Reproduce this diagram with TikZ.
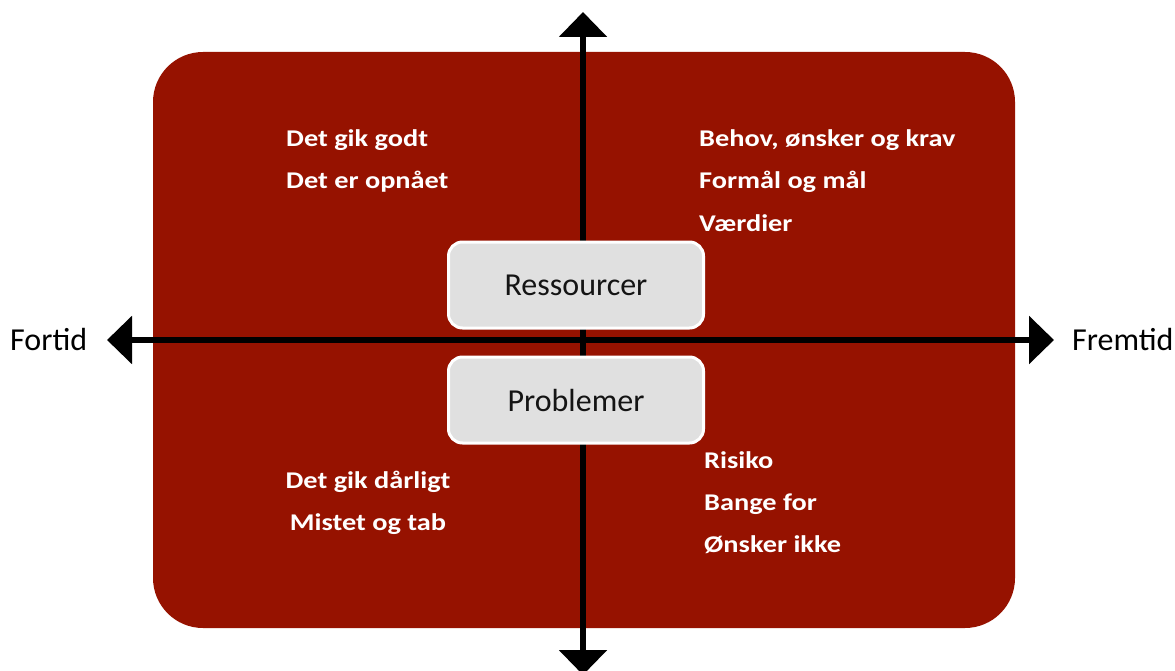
\documentclass[tikz,border=0pt]{standalone}
\usepackage{fontspec}
\setmainfont{Carlito}
\newfontfamily\widefont[FakeStretch=1.18]{Carlito}
\usetikzlibrary{arrows.meta}
\definecolor{quadred}{RGB}{150,18,0}
\definecolor{boxgray}{RGB}{224,224,224}
\definecolor{boxtext}{RGB}{20,20,20}
\tikzset{
  axisline/.style={line width=6pt, -{Triangle[width=47pt,length=25pt]}},
  keybox/.style={draw=white, line width=3pt, fill=boxgray, rounded corners=14pt,
    minimum width=255pt, minimum height=86pt, inner sep=0pt,
    font=\fontsize{32}{36}\selectfont, text=boxtext},
  quadtext/.style={text=white, font=\widefont\bfseries\fontsize{24}{28}\selectfont, inner sep=0pt},
  axislabel/.style={text=black, font=\fontsize{32}{36}\selectfont, inner sep=0pt}
}
\begin{document}
\begin{tikzpicture}[x=1pt,y=-1pt]
\useasboundingbox (0,0) rectangle (1175,671);
\fill[quadred, rounded corners=50pt] (153,52) rectangle (1015,628);
% axes
\coordinate (ctr) at (583,340);
\coordinate (top) at (583,12);
\coordinate (bot) at (583,675);
\coordinate (lft) at (107,340);
\coordinate (rgt) at (1054,340);
\draw[axisline] (ctr) -- (top);
\draw[axisline] (ctr) -- (bot);
\draw[axisline] (ctr) -- (lft);
\draw[axisline] (ctr) -- (rgt);
% boxes
\node[keybox] (res) at (576,285) {Ressourcer};
\node[keybox] (prob) at (576,400) {Problemer};
% axis labels
\node[axislabel, anchor=base west] (fortid) at (10,350) {Fortid};
\node[axislabel, anchor=base west] (fremtid) at (1072,350) {Fremtid};
% quadrant texts
\node[quadtext, anchor=base west] (q1a) at (286,147) {Det gik godt};
\node[quadtext, anchor=base west] (q1b) at (286,189) {Det er opnået};
\node[quadtext, anchor=base west] (q2a) at (699,147) {Behov, ønsker og krav};
\node[quadtext, anchor=base west] (q2b) at (699,189) {Formål og mål};
\node[quadtext, anchor=base west] (q2c) at (699,231) {Værdier};
\node[quadtext, anchor=base] (q3a) at (368,488) {Det gik dårligt};
\node[quadtext, anchor=base] (q3b) at (368,530) {Mistet og tab};
\node[quadtext, anchor=base west] (q4a) at (704,468) {Risiko};
\node[quadtext, anchor=base west] (q4b) at (704,510) {Bange for};
\node[quadtext, anchor=base west] (q4c) at (704,552) {Ønsker ikke};
\end{tikzpicture}
\end{document}
